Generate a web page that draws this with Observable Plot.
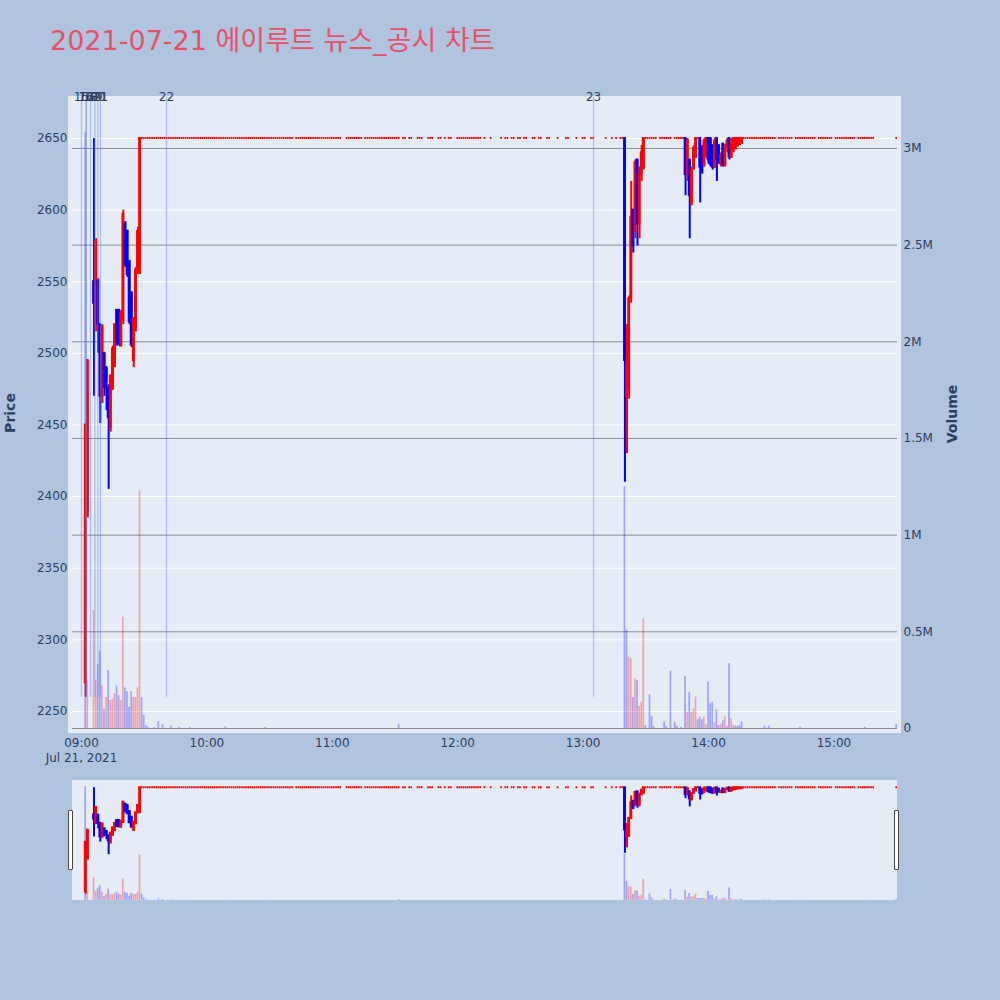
<!DOCTYPE html>
<html><head><meta charset="utf-8">
<script src="https://cdn.jsdelivr.net/npm/d3@7"></script>
<script src="https://cdn.jsdelivr.net/npm/@observablehq/plot@0.6"></script>
<style>
html,body{margin:0;padding:0;background:#B0C4DE;}
#page{position:relative;width:1000px;height:1000px;background:#B0C4DE;overflow:hidden;font-family:"DejaVu Sans",Verdana,sans-serif;color:#2a3f5f;}
#page svg{position:absolute;left:0;}
.bg{position:absolute;background:#E5ECF6;}
.title{position:absolute;left:50px;top:27px;font-size:27px;line-height:1;color:#E8506A;font-family:"DejaVu Sans","Noto Sans CJK KR",sans-serif;white-space:nowrap;}
.atitle{position:absolute;font-size:14px;font-weight:bold;color:#2a3f5f;transform:translate(-50%,-50%) rotate(-90deg);white-space:nowrap;}
.handle{position:absolute;width:3px;height:58px;background:#fff;border:1px solid #444;border-radius:1px;}
</style></head>
<body><div id="page"></div>
<script>
// ---------- DATA ----------
const titleText = "2021-07-21 에이루트 뉴스_공시 차트";
const dateLabel = "Jul 21, 2021";

// active one-minute candles
const candleTimes = ["09:02","09:03","09:06","09:07","09:08","09:09","09:10","09:11","09:12","09:13","09:14","09:15","09:16","09:17","09:18","09:19","09:20","09:21","09:22","09:23","09:24","09:25","09:26","09:27","09:28",
"13:20","13:21","13:22","13:23","13:24","13:25","13:26","13:27","13:28","13:29",
"13:49","13:50","13:51","13:52","13:53","13:54","13:56","13:57","13:58","13:59","14:00","14:01","14:02","14:03","14:04","14:05","14:06","14:07","14:08","14:09","14:10","14:11","14:12","14:13","14:14","14:15","14:16"];
const opens = [2270,2390,2550,2520,2550,2520,2470,2500,2490,2475,2448,2476,2493,2530,2530,2505,2523,2590,2585,2563,2542,2495,2518,2560,2560,
2650,2470,2475,2538,2600,2585,2635,2590,2625,2630,
2650,2625,2635,2605,2630,2638,2650,2643,2632,2638,2650,2650,2645,2630,2650,2645,2632,2646,2632,2644,2650,2637,2642,2643,2645,2646,2647];
const highs = [2450,2495,2650,2580,2552,2520,2520,2500,2490,2478,2485,2505,2520,2530,2530,2530,2600,2592,2586,2565,2543,2525,2560,2588,2650,
2650,2520,2540,2620,2600,2635,2635,2630,2645,2650,
2650,2650,2635,2630,2645,2650,2650,2645,2650,2650,2650,2650,2645,2650,2650,2645,2640,2646,2646,2650,2650,2650,2650,2650,2650,2650,2650];
const lows = [2260,2385,2470,2515,2500,2451,2465,2470,2460,2405,2445,2474,2490,2505,2505,2505,2520,2560,2553,2520,2504,2490,2515,2555,2555,
2410,2430,2468,2535,2570,2580,2575,2580,2620,2628,
2610,2620,2580,2603,2628,2636,2605,2625,2630,2636,2632,2630,2628,2629,2620,2632,2630,2630,2630,2640,2635,2636,2640,2642,2644,2645,2646];
const closes = [2450,2495,2535,2578,2520,2470,2518,2476,2480,2455,2484,2503,2520,2508,2507,2528,2597,2562,2555,2522,2506,2524,2558,2585,2650,
2495,2492,2538,2595,2575,2633,2590,2625,2640,2650,
2625,2648,2610,2628,2643,2650,2630,2627,2648,2650,2635,2632,2630,2648,2635,2634,2638,2632,2644,2648,2637,2648,2650,2650,2650,2650,2650];
const volumes = [3080000,250000,610000,250000,330000,400000,220000,100000,160000,300000,145000,150000,180000,220000,170000,145000,576000,210000,190000,110000,190000,160000,160000,210000,1230000,
1250000,510000,369000,360000,160000,257000,248000,114000,136000,567000,
269000,84000,186000,84000,100000,162000,58000,45000,58000,20000,240000,128000,136000,30000,97000,15000,20000,40000,60000,12000,335000,50000,15000,12000,10000,15000,35000];

// minutes after 09:00 that traded flat at the upper limit price
const limitPrice = 2650;
const limitMinutes = [29,30,31,32,33,34,35,36,37,38,39,40,41,42,43,44,45,46,47,48,49,50,51,52,53,54,55,56,57,58,59,60,61,62,63,64,65,66,67,68,69,70,71,72,73,74,75,76,77,78,79,80,81,82,83,84,85,86,87,88,89,90,91,92,93,94,95,96,97,98,99,100,101,
103,104,105,106,107,108,109,110,111,112,113,114,115,116,117,118,119,120,121,122,123,124,
127,128,129,130,131,132,133,134,136,137,138,139,140,141,142,143,144,145,146,147,148,149,150,151,152,154,
155,157,158,161,162,163,166,167,168,171,172,174,176,177,180,181,182,183,184,185,186,187,188,189,190,191,193,196,
201,203,204,206,207,209,210,212,213,216,217,219,220,223,224,228,232,233,237,240,241,244,245,251,254,256,258,259,
270,271,272,273,274,275,277,278,279,280,281,282,284,285,286,287,288,295,
317,318,319,320,321,322,323,324,325,326,327,328,329,330,331,332,334,335,336,337,338,339,340,342,343,344,345,346,347,348,349,350,351,
353,354,355,356,357,358,359,361,362,363,364,365,366,367,368,369,370,372,373,374,375,376,377,378,379,390];
const limitVolMinutes = [29,30,31,32,35,37,39,43,47,52,69,88,152,270,272,273,274,279,280,282,284,285,287,295,327,329,344,375,390];
const limitVolValues = [160000,67000,16000,7000,5000,35000,20000,12000,6000,5000,8000,5000,22000,16000,174000,62000,10000,33000,10000,296000,33000,12000,6000,45000,12000,12000,6000,6000,20000];

// news / disclosure markers
const newsLabels = ["15","16","17","18","19","20","21","22","23"];
const newsTimes = ["09:00:00","09:02:15","09:02:15","09:04:20","09:06:25","09:07:50","09:09:05","09:40:40","13:05:00"];
const newsLow = 2260, newsTop = 2679;

// axes
const priceTicks = [2250,2300,2350,2400,2450,2500,2550,2600,2650];
const volTicks = [0,500000,1000000,1500000,2000000,2500000,3000000];
const volTickLabels = ["0","0.5M","1M","1.5M","2M","2.5M","3M"];
const hourTicks = ["09:00","10:00","11:00","12:00","13:00","14:00","15:00"];
const xRange = ["08:55:42","15:30:24"];
const priceDomain = [2237.4, 2676.5];
const volDomain = [-5200, 3248000];

// ---------- BUILD ----------
const T = s => { const [h,m,sec=0] = s.split(":").map(Number); return new Date(Date.UTC(2021,6,21,h,m,sec)); };
const TM = m => new Date(Date.UTC(2021,6,21,9,0) + m*60000);
const UP = "#ff0000", DOWN = "#0000ff";

let rows = candleTimes.map((s,i)=>({t:T(s),o:opens[i],h:highs[i],l:lows[i],c:closes[i],v:volumes[i]}));
limitMinutes.forEach(m=>{
  const k = limitVolMinutes.indexOf(m);
  rows.push({t:TM(m),o:limitPrice,h:limitPrice,l:limitPrice,c:limitPrice,v:k>=0?limitVolValues[k]:0});
});
rows.sort((a,b)=>a.t-b.t);
rows.forEach((d,i)=>{
  d.color = d.c < d.o ? DOWN : UP;
  d.vcolor = (i>0 && d.c > rows[i-1].c) ? UP : DOWN;
  d.flat = d.h === d.l;
});
const news = newsLabels.map((lab,i)=>({label:lab,t:T(newsTimes[i])}));
const xDomain = xRange.map(T);
const half = 40e3, flatHalf = 24e3, vhalf = 25e3;
const hw = d => d.flat ? flatHalf : half;

const page = document.getElementById("page");
const font = {background:"transparent",fontFamily:'"DejaVu Sans", Verdana, sans-serif',fontSize:"12px",color:"#2a3f5f",overflow:"visible"};
const mainGeom = {width:1000,height:770,marginLeft:72,marginRight:103,marginTop:100,marginBottom:41};
const miniGeom = {width:1000,height:120,marginLeft:72,marginRight:103,marginTop:0,marginBottom:0};

function addDiv(cls, css, text){ const d=document.createElement("div"); d.className=cls; Object.assign(d.style, css); if(text) d.textContent=text; page.appendChild(d); return d; }
function addSvg(svg, top){ svg.style.top = top+"px"; page.appendChild(svg); }

addDiv("title",{}, titleText);
addDiv("bg",{left:"68px",top:"96px",width:"833px",height:"637px"});

const candleMarks = [
  Plot.ruleX(rows.filter(d=>!d.flat),{x:"t",y1:"l",y2:"h",stroke:d=>d.color,strokeWidth:2}),
  Plot.rect(rows,{x1:d=>new Date(+d.t-hw(d)),x2:d=>new Date(+d.t+hw(d)),y1:d=>Math.min(d.o,d.c),y2:d=>Math.max(d.o,d.c),fill:d=>d.color,insetTop:-1,insetBottom:-1})
];
const volBars = Plot.rect(rows.filter(d=>d.v>0),{x1:d=>new Date(+d.t-vhalf),x2:d=>new Date(+d.t+vhalf),y1:0,y2:"v",fill:d=>d.vcolor,fillOpacity:0.3});

// layer 1: price grid + axes
addSvg(Plot.plot({...mainGeom, style:font,
  x:{type:"utc",domain:xDomain}, y:{domain:priceDomain},
  marks:[
    Plot.gridY(priceTicks,{stroke:"#ffffff",strokeOpacity:1,strokeWidth:1}),
    Plot.axisY(priceTicks,{anchor:"left",tickSize:0,tickPadding:5,label:null,tickFormat:d=>String(d)}),
    Plot.axisX(hourTicks.map(T),{anchor:"bottom",tickSize:0,tickPadding:9,tickFormat:d3.utcFormat("%H:%M"),label:null}),
    Plot.text([dateLabel],{x:()=>T(hourTicks[0]),frameAnchor:"bottom",dy:32,text:d=>d,fill:"#2a3f5f"})
  ]}), 0);

// layer 2: volume
addSvg(Plot.plot({...mainGeom, style:font,
  x:{type:"utc",domain:xDomain,axis:null}, y:{domain:volDomain},
  marks:[
    Plot.gridY(volTicks,{stroke:"#8c8c8c",strokeOpacity:1,strokeWidth:1}),
    volBars,
    Plot.axisY(volTicks,{anchor:"right",tickSize:0,tickPadding:6,label:null,tickFormat:d=>volTickLabels[volTicks.indexOf(d)]})
  ]}), 0);

// layer 3: candles + news
addSvg(Plot.plot({...mainGeom, style:font,
  x:{type:"utc",domain:xDomain,axis:null}, y:{domain:priceDomain,axis:null},
  marks:[
    ...candleMarks,
    Plot.ruleX(news,{x:"t",y1:newsLow,y2:newsTop,stroke:"rgb(100,130,240)",strokeOpacity:0.45,strokeWidth:1.3}),
    Plot.text(news,{x:"t",y:newsTop,text:"label",fill:"#2a3f5f",fontSize:12})
  ]}), 0);

addDiv("atitle",{left:"10px",top:"413px"},"Price");
addDiv("atitle",{left:"952px",top:"414px"},"Volume");

// range slider
addDiv("bg",{left:"72px",top:"780px",width:"825px",height:"120px"});
addSvg(Plot.plot({...miniGeom, style:font,
  x:{type:"utc",domain:xDomain,axis:null}, y:{domain:volDomain,axis:null},
  marks:[volBars]}), 780);
addSvg(Plot.plot({...miniGeom, style:font,
  x:{type:"utc",domain:xDomain,axis:null}, y:{domain:priceDomain,axis:null},
  marks:candleMarks}), 780);
addDiv("handle",{left:"68px",top:"810px"});
addDiv("handle",{left:"894px",top:"810px"});
</script>
</body></html>
